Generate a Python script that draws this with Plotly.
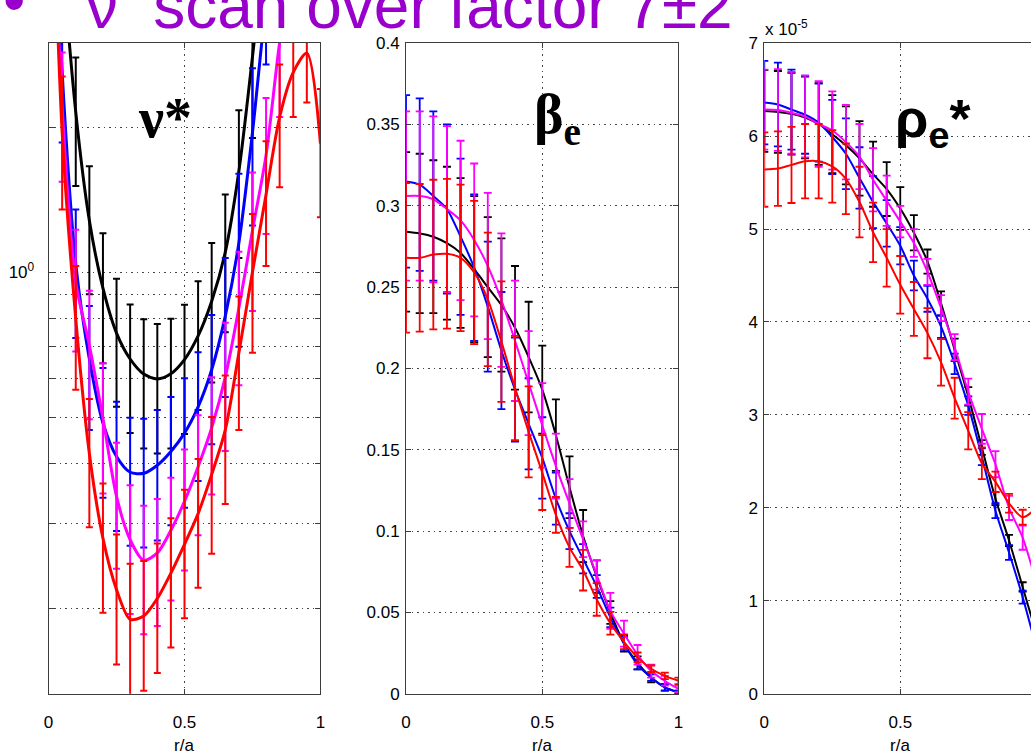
import plotly.graph_objects as go

W, H = 1036, 755

# ---------------- data ----------------
r_a = [0.0, 0.05, 0.1, 0.15, 0.2, 0.25, 0.3, 0.35, 0.4, 0.45, 0.5,
       0.55, 0.6, 0.65, 0.7, 0.75, 0.8, 0.85, 0.9, 0.95, 1.0]

series = ["black", "blue", "magenta", "red"]
colors = {"black": "#000000", "blue": "#0000FF", "magenta": "#FF00FF", "red": "#FF0000"}

# nu* (log axis)
nu_black = [12.0, 4.6, 2.15, 1.28, 0.926, 0.747, 0.66, 0.614, 0.60, 0.615, 0.658,
            0.737, 0.87, 1.1, 1.62, 2.8, 5.0, 8.0, 12.0, 16.0, 20.0]
nu_black_err = [3.0, 1.4, 0.64, 0.38, 0.279, 0.222, 0.197, 0.184, 0.18, 0.185, 0.197,
                0.22, 0.28, 0.35, 0.55, 0.9, 1.5, 2.4, 3.6, 4.8, 6.0]
nu_blue = [12.0, 2.6, 1.04, 0.66, 0.486, 0.414, 0.384, 0.382, 0.397, 0.424, 0.463,
           0.525, 0.627, 0.81, 1.15, 1.95, 3.6, 5.5, 8.0, 11.0, 14.0]
nu_blue_err = [3.0, 0.74, 0.31, 0.19, 0.146, 0.124, 0.114, 0.114, 0.12, 0.126, 0.139,
               0.157, 0.188, 0.26, 0.45, 0.7, 0.9, 1.5, 2.2, 3.0, 4.0]
nu_magenta = [12.0, 2.2, 0.954, 0.705, 0.497, 0.342, 0.278, 0.252, 0.261, 0.291, 0.334,
              0.394, 0.475, 0.605, 0.842, 1.22, 1.75, 3.0, 4.5, 6.5, 9.0]
nu_magenta_err = [3.0, 0.66, 0.27, 0.21, 0.15, 0.10, 0.083, 0.075, 0.077, 0.083, 0.094,
                  0.11, 0.13, 0.18, 0.26, 0.39, 0.55, 0.9, 1.3, 1.9, 2.7]
nu_red = [12.0, 1.95, 0.80, 0.42, 0.28, 0.219, 0.19, 0.193, 0.21, 0.237, 0.272,
          0.315, 0.38, 0.47, 0.68, 1.0, 1.45, 2.1, 2.6, 2.85, 1.85]
nu_red_err = [3.0, 0.6, 0.23, 0.125, 0.084, 0.066, 0.058, 0.058, 0.063, 0.071, 0.081,
              0.094, 0.12, 0.14, 0.21, 0.32, 0.42, 0.6, 0.5, 0.6, 0.55]

# beta_e
beta_black = [0.284, 0.283, 0.281, 0.277, 0.271, 0.261, 0.250, 0.239, 0.225, 0.207, 0.187,
              0.159, 0.127, 0.097, 0.072, 0.050, 0.031, 0.019, 0.010, 0.004, 0.001]
beta_black_err = [0.049, 0.049, 0.047, 0.047, 0.046, 0.045, 0.043, 0.041, 0.038, 0.034, 0.027,
                  0.022, 0.019, 0.016, 0.010, 0.007, 0.005, 0.004, 0.003, 0.002, 0.001]
beta_blue = [0.315, 0.313, 0.306, 0.298, 0.281, 0.262, 0.238, 0.211, 0.187, 0.166, 0.145,
             0.120, 0.100, 0.083, 0.066, 0.047, 0.031, 0.018, 0.010, 0.004, 0.001]
beta_blue_err = [0.053, 0.053, 0.052, 0.052, 0.048, 0.045, 0.040, 0.036, 0.032, 0.028, 0.025,
                 0.016, 0.011, 0.009, 0.007, 0.006, 0.004, 0.003, 0.002, 0.002, 0.001]
beta_magenta = [0.306, 0.306, 0.304, 0.298, 0.291, 0.279, 0.263, 0.242, 0.217, 0.191, 0.165,
                0.140, 0.117, 0.095, 0.073, 0.051, 0.037, 0.024, 0.014, 0.008, 0.003]
beta_magenta_err = [0.052, 0.052, 0.051, 0.051, 0.049, 0.047, 0.045, 0.041, 0.037, 0.032, 0.026,
                    0.020, 0.015, 0.011, 0.009, 0.011, 0.008, 0.006, 0.004, 0.003, 0.002]
beta_red = [0.268, 0.268, 0.270, 0.2705, 0.268, 0.259, 0.2425, 0.2165, 0.188, 0.161, 0.136,
            0.110, 0.090, 0.076, 0.058, 0.0434, 0.032, 0.0224, 0.0154, 0.011, 0.008]
beta_red_err = [0.046, 0.0454, 0.046, 0.046, 0.045, 0.044, 0.041, 0.037, 0.032, 0.028, 0.023,
                0.011, 0.012, 0.0125, 0.010, 0.007, 0.0045, 0.003, 0.002, 0.002, 0.002]

# rho_e* (units of 1e-5)
rho_black = [6.27, 6.26, 6.24, 6.20, 6.13, 6.02, 5.90, 5.76, 5.59, 5.43, 5.22,
             4.96, 4.65, 4.2, 3.7, 3.2, 2.65, 2.1, 1.65, 1.15, 0.65]
rho_black_err = [0.44, 0.44, 0.44, 0.44, 0.44, 0.42, 0.42, 0.40, 0.35, 0.29, 0.23,
                 0.19, 0.13, 0.13, 0.12, 0.10, 0.08, 0.07, 0.06, 0.05, 0.04]
rho_blue = [6.36, 6.34, 6.285, 6.23, 6.145, 5.99, 5.81, 5.55, 5.29, 5.06, 4.82,
            4.50, 4.25, 3.95, 3.55, 3.1, 2.55, 1.97, 1.52, 1.04, 0.5]
rho_blue_err = [0.45, 0.45, 0.43, 0.42, 0.42, 0.40, 0.38, 0.33, 0.28, 0.25, 0.20,
                0.16, 0.14, 0.12, 0.11, 0.10, 0.09, 0.08, 0.08, 0.07, 0.06]
rho_magenta = [6.285, 6.28, 6.25, 6.21, 6.13, 6.06, 5.935, 5.78, 5.53, 5.305, 5.08,
               4.85, 4.54, 4.15, 3.73, 3.25, 2.85, 2.47, 2.0, 1.68, 1.2]
rho_magenta_err = [0.43, 0.44, 0.44, 0.44, 0.46, 0.42, 0.40, 0.35, 0.34, 0.27, 0.17,
                   0.15, 0.14, 0.14, 0.14, 0.14, 0.16, 0.14, 0.13, 0.13, 0.12]
rho_red = [5.64, 5.65, 5.69, 5.73, 5.73, 5.675, 5.54, 5.29, 4.965, 4.69, 4.40,
           4.14, 3.88, 3.565, 3.18, 2.83, 2.48, 2.28, 2.05, 1.9, 2.0]
rho_red_err = [0.40, 0.40, 0.41, 0.40, 0.40, 0.39, 0.38, 0.38, 0.32, 0.31, 0.31,
               0.29, 0.27, 0.25, 0.22, 0.20, 0.17, 0.11, 0.10, 0.08, 0.08]

x_ticks = [0, 0.5, 1]
x_ticktext = ["0", "0.5", "1"]
nu_ticks = [0.2, 0.3, 0.4, 0.5, 0.6, 0.7, 0.8, 0.9, 1, 2]
nu_ticktext = ["", "", "", "", "", "", "", "", "10<sup>0</sup>", ""]
beta_ticks = [0, 0.05, 0.1, 0.15, 0.2, 0.25, 0.3, 0.35, 0.4]
beta_ticktext = ["0", "0.05", "0.1", "0.15", "0.2", "0.25", "0.3", "0.35", "0.4"]
rho_ticks = [0, 1, 2, 3, 4, 5, 6, 7]
rho_ticktext = ["0", "1", "2", "3", "4", "5", "6", "7"]

panels = [
    ("x", "y", {"black": (nu_black, nu_black_err), "blue": (nu_blue, nu_blue_err),
                "magenta": (nu_magenta, nu_magenta_err), "red": (nu_red, nu_red_err)}, 3.0, 2.0, 3.5),
    ("x2", "y2", {"black": (beta_black, beta_black_err), "blue": (beta_blue, beta_blue_err),
                  "magenta": (beta_magenta, beta_magenta_err), "red": (beta_red, beta_red_err)}, 2.0, 1.8, 4),
    ("x3", "y3", {"black": (rho_black, rho_black_err), "blue": (rho_blue, rho_blue_err),
                  "magenta": (rho_magenta, rho_magenta_err), "red": (rho_red, rho_red_err)}, 2.0, 1.8, 4),
]

fig = go.Figure()
for xa, ya, data, lw, et, ew in panels:
    for s in series:
        vals, errs = data[s]
        fig.add_trace(go.Scatter(
            x=r_a, y=vals, xaxis=xa, yaxis=ya, mode="lines",
            line=dict(color=colors[s], width=lw, shape="spline", smoothing=0.8),
            error_y=dict(type="data", array=errs, visible=True, color=colors[s],
                         thickness=et, width=ew),
            showlegend=False, hoverinfo="skip"))

AX = "#3c3c3c"
TF = dict(family="Liberation Sans, Arial, sans-serif", size=17, color="black")


def px_x(p):
    return p / W


def px_y(p):
    return 1 - p / H


def xax(d0, d1, rng, mirror="ticks"):
    return dict(domain=[px_x(d0), px_x(d1)], range=rng, showline=True, linecolor=AX,
                linewidth=1, mirror=mirror, ticks="inside", ticklen=5, tickcolor=AX,
                showgrid=True, gridcolor="#444", gridwidth=1, griddash="1.5px,4px",
                zeroline=False, tickvals=x_ticks, ticktext=x_ticktext, tickfont=TF,
                ticklabelstandoff=13, fixedrange=True)


def yax(rng, tv, tt, mirror="ticks", typ="linear", standoff=2):
    return dict(domain=[px_y(702.5), px_y(35)], range=rng, type=typ, showline=True,
                linecolor=AX, linewidth=1, mirror=mirror, ticks="inside", ticklen=5,
                tickcolor=AX, showgrid=True, gridcolor="#444", gridwidth=1,
                griddash="1.5px,4px", zeroline=False, tickvals=tv, ticktext=tt,
                tickfont=TF, ticklabelstandoff=standoff, fixedrange=True)


fig.update_layout(
    width=W, height=H, margin=dict(l=0, r=0, t=0, b=0),
    paper_bgcolor="white", plot_bgcolor="white",
    xaxis=xax(44, 318.5, [0, 1]),
    yaxis=yax([-0.876, 0.4757], nu_ticks, nu_ticktext, typ="log", standoff=10),
    xaxis2=xax(405, 680, [0, 1]),
    yaxis2=yax([0, 0.4], beta_ticks, beta_ticktext),
    xaxis3=xax(766.7, 1036, [0, (1036 - 766.7) / 274.6]),
    yaxis3=yax([0, 7], rho_ticks, rho_ticktext, mirror=False),
)
fig.layout.yaxis2.anchor = "x2"
fig.layout.yaxis3.anchor = "x3"
fig.layout.xaxis2.anchor = "y2"
fig.layout.xaxis3.anchor = "y3"

ann = []
PURPLE = "#9900CC"
# slide title (clipped at top, as in the original slide crop)
ann.append(dict(text="•", x=px_x(-4), y=px_y(-8), xanchor="left", yanchor="middle",
                font=dict(family="Liberation Sans, Arial", size=64, color=PURPLE)))
ann.append(dict(text="ν<sup>*</sup> scan over factor 7±2", x=px_x(80), y=px_y(-8),
                xanchor="left", yanchor="middle",
                font=dict(family="Liberation Sans, Arial", size=64, color=PURPLE)))
# panel labels
ann.append(dict(text="<b>ν*</b>", x=px_x(162), y=px_y(112), xanchor="center", yanchor="middle",
                font=dict(family="Liberation Serif", size=56, color="black")))
ann.append(dict(text="<b>β<sub>e</sub></b>", x=px_x(558), y=px_y(112), xanchor="center", yanchor="middle",
                font=dict(family="Liberation Serif", size=56, color="black")))
ann.append(dict(text="<b>ρ<sub>e</sub>*</b>", x=px_x(937), y=px_y(116), xanchor="center", yanchor="middle",
                font=dict(family="Liberation Sans, Arial, sans-serif", size=54, color="black")))
# axis labels
for cx in (181, 542.5, 904):
    ann.append(dict(text="r/a", x=px_x(cx), y=px_y(755), xanchor="center", yanchor="middle",
                    font=dict(family="Liberation Sans, Arial", size=17, color="black")))
ann.append(dict(text="x 10<sup>-5</sup>", x=px_x(765), y=px_y(19), xanchor="left", yanchor="middle",
                font=dict(family="Liberation Sans, Arial", size=17, color="black")))
for a in ann:
    a.update(xref="paper", yref="paper", showarrow=False)
fig.update_layout(annotations=ann)

fig.write_html(
    "out.html",
    config={"displayModeBar": False},
    post_script="document.body.style.margin='0';document.body.style.padding='0';"
                "document.body.style.overflow='hidden';",
)
